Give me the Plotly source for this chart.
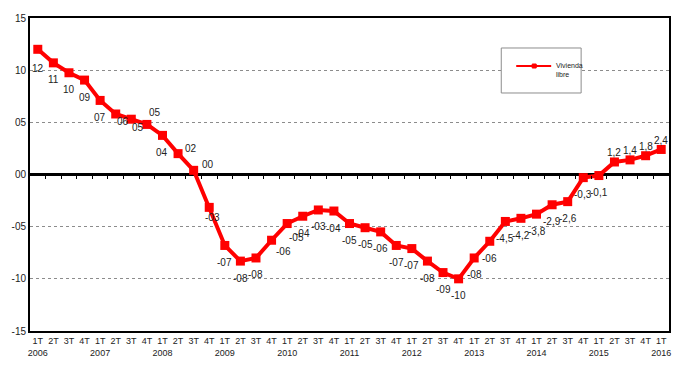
import plotly.graph_objects as go

# ---- data ----
years = ["2006", "2007", "2008", "2009", "2010", "2011", "2012", "2013", "2014", "2015", "2016"]
quarters = ["1T", "2T", "3T", "4T"]

vivienda_libre = [
    12.0, 10.7, 9.75, 9.05, 7.1, 5.8, 5.3, 4.8, 3.75, 2.0, 0.4,
    -3.15, -6.8, -8.3, -8.0, -6.3, -4.7, -4.0, -3.4, -3.5,
    -4.7, -5.1, -5.5, -6.8, -7.1, -8.3, -9.4, -10.0,
    -8.0, -6.4, -4.5, -4.2, -3.8, -2.9, -2.6, -0.3, -0.1,
    1.2, 1.4, 1.8, 2.4,
]
value_labels = [
    "12", "11", "10", "09", "07", "06", "05", "05", "04", "02", "00",
    "-03", "-07", "-08", "-08", "-06", "-05", "-04", "-03", "-04",
    "-05", "-05", "-06", "-07", "-07", "-08", "-09", "-10",
    "-08", "-06", "-4,5", "-4,2", "-3,8", "-2,9", "-2,6", "-0,3", "-0,1",
    "1,2", "1,4", "1,8", "2,4",
]
y_tick_vals = [-15, -10, -5, 0, 5, 10, 15]
y_tick_text = ["-15", "-10", "-05", "00", "05", "10", "15"]
series_name = "Vivienda<br>libre"

# ---- derived ----
n = len(vivienda_libre)
x_idx = list(range(n))
tick_text = []
for i in range(n):
    q = quarters[i % 4]
    tick_text.append(q + "<br>" + years[i // 4] if i % 4 == 0 else q)

# label placement (pixel offsets of the label centre from its point)
label_dx = [0] * n
label_dy = [-17] * n
label_dx[0], label_dy[0] = 0, -19
label_dx[5], label_dy[5] = 7, -8
label_dx[6], label_dy[6] = 7, -8
label_dx[7], label_dy[7] = 8, 12
label_dx[9], label_dy[9] = 13, 5
label_dx[10], label_dy[10] = 14, 6
label_dx[11], label_dy[11] = 3, -10
label_dx[15], label_dy[15] = 12, -11
label_dx[16], label_dy[16] = 9, -14
for i in range(37, 41):
    label_dx[i], label_dy[i] = 0, 9

FONT = "Liberation Sans, Arial, sans-serif"
RED = "#FF0000"

fig = go.Figure()
fig.add_trace(go.Scatter(
    x=x_idx, y=vivienda_libre, mode="lines+markers",
    line=dict(color=RED, width=4),
    marker=dict(symbol="square", size=9, color=RED),
    showlegend=False, hoverinfo="skip",
))
# helper trace for the tick axis on the zero line
fig.add_trace(go.Scatter(x=[None], y=[None], xaxis="x2", yaxis="y",
                         showlegend=False, hoverinfo="skip"))

for i in range(n):
    fig.add_annotation(x=x_idx[i], y=vivienda_libre[i], text=value_labels[i],
                       showarrow=False, xanchor="center", yanchor="middle",
                       xshift=label_dx[i], yshift=label_dy[i],
                       font=dict(family=FONT, size=10, color="#222222"))

# body margin of the page shifts the figure by 8px, compensate in size
fig.update_layout(
    width=682, height=368,
    margin=dict(l=22, r=21, t=10, b=45, autoexpand=False),
    paper_bgcolor="white", plot_bgcolor="white",
    font=dict(family=FONT, color="#222222"),
    xaxis=dict(
        range=[-0.5, n - 0.5], tickmode="array", tickvals=x_idx, ticktext=tick_text,
        tickfont=dict(size=9), tickangle=0, showgrid=False, zeroline=False,
        showline=True, linecolor="black", linewidth=2, mirror=True, ticks="",
        automargin=False,
    ),
    xaxis2=dict(
        range=[-0.5, n - 0.5], overlaying="x", anchor="free", position=0.5,
        side="bottom", tickmode="array", tickvals=[i + 0.5 for i in range(n - 1)],
        ticks="outside", ticklen=3, tickwidth=1, tickcolor="black",
        showticklabels=False, showgrid=False, zeroline=False, showline=False,
    ),
    yaxis=dict(
        range=[-15, 15], tickmode="array", tickvals=y_tick_vals, ticktext=y_tick_text,
        tickfont=dict(size=10), showgrid=True, gridcolor="#8c8c8c", griddash="dot",
        gridwidth=1, zeroline=True, zerolinecolor="black", zerolinewidth=3,
        showline=True, linecolor="black", linewidth=2, mirror=True, ticks="",
        automargin=False,
    ),
    showlegend=False,
)

# manual legend box
legend_box = dict(x0=0.7375, x1=0.8625, y0=0.7604, y1=0.9042)
fig.add_shape(type="rect", xref="paper", yref="paper", **legend_box,
              line=dict(color="#8c8c8c", width=1), fillcolor="white", layer="above")
fig.add_shape(type="line", xref="paper", yref="paper", x0=0.7609, x1=0.8156,
              y0=0.8466, y1=0.8466, line=dict(color=RED, width=2), layer="above")
fig.add_shape(type="rect", xref="paper", yref="paper", x0=0.7859, x1=0.7922,
              y0=0.8402, y1=0.8530, line=dict(color=RED, width=1), fillcolor=RED, layer="above")
fig.add_annotation(xref="paper", yref="paper", x=0.8200, y=0.8466, xanchor="left",
                   yanchor="top", yshift=6, text=series_name, showarrow=False, align="left",
                   font=dict(family=FONT, size=7, color="#222222"))

fig.write_html("out.html")
